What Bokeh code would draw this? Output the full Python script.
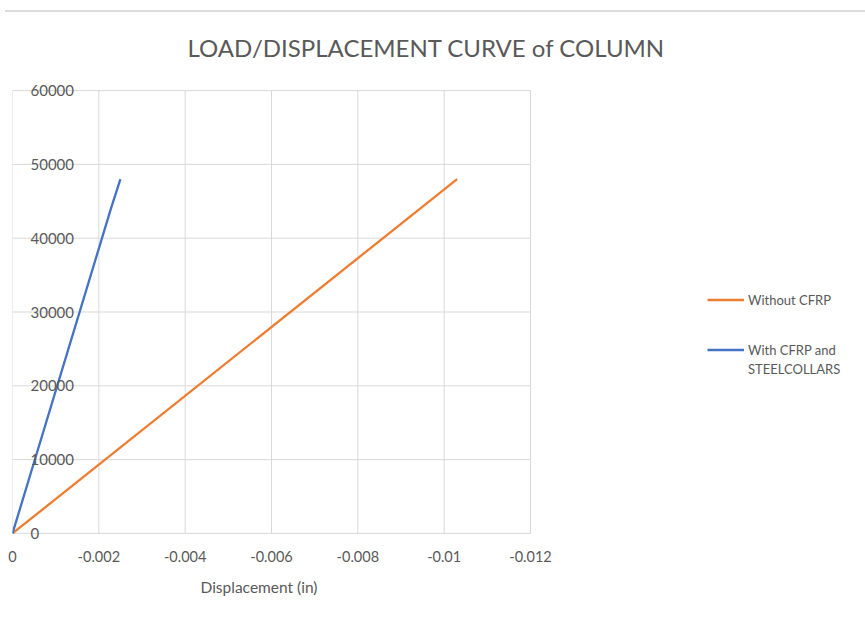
from bokeh.plotting import figure
from bokeh.models import Range1d, FixedTicker, Legend, LegendItem, Div, LabelSet, ColumnDataSource, Title
from bokeh.core.properties import value
from bokeh.layouts import column
from bokeh.embed import file_html
from bokeh.resources import INLINE

# Load/displacement readings for the two column specimens
disp_without_cfrp = [0.0, -0.0103]
load_without_cfrp = [0, 48000]

disp_with_cfrp = [0.0, -0.00228, -0.0025]
load_with_cfrp = [0, 44000, 48000]

x_ticks = [0.0, -0.002, -0.004, -0.006, -0.008, -0.01, -0.012]
x_tick_labels = ["0", "-0.002", "-0.004", "-0.006", "-0.008", "-0.01", "-0.012"]
y_ticks = [0, 10000, 20000, 30000, 40000, 50000, 60000]
y_tick_labels = ["0", "10000", "20000", "30000", "40000", "50000", "60000"]

ORANGE = "#ED7D31"
BLUE = "#4472C4"
GRID = "#d9d9d9"
TEXT = "#595959"
FONT = "Lato"

# The data area covers 0 .. -0.012; the frame keeps going to the right so the
# legend can sit beside the curves (518 px of data area out of an 853 px frame).
X_END = x_ticks[-1] * 853 / 518

p = figure(
    width=865, height=611,
    x_range=Range1d(0.0, X_END), y_range=Range1d(-1500, 61500),
    output_backend="svg", toolbar_location=None,
    min_border_left=12, min_border_right=0, min_border_top=67, min_border_bottom=79,
    outline_line_color=None,
)

p.title.text = "LOAD/DISPLACEMENT CURVE of COLUMN"
p.title.align = "left"
p.title.offset = 175
p.title.standoff = 36
p.title.text_font = FONT
p.title.text_font_style = "normal"
p.title.text_font_size = "24px"
p.title.text_color = TEXT

# x axis
p.xaxis.ticker = FixedTicker(ticks=x_ticks)
p.xaxis.major_label_overrides = dict(zip(x_ticks, x_tick_labels))
p.xaxis.axis_line_color = None
p.xaxis.major_tick_line_color = None
p.xaxis.minor_tick_line_color = None
p.xaxis.major_tick_out = 0
p.xaxis.major_label_standoff = 6
p.xaxis.major_label_text_font = FONT
p.xaxis.major_label_text_font_size = "14.5px"
p.xaxis.major_label_text_color = TEXT

# x axis title, centred under the data area
p.add_layout(Title(text="Displacement (in)", align="left", offset=188, standoff=22,
                   text_font=FONT, text_font_style="normal", text_font_size="15.5px",
                   text_color=TEXT), "below")

# y axis: grid only, its tick labels are drawn just inside the plotting area
p.yaxis.visible = False
p.xgrid.grid_line_color = None
p.ygrid.grid_line_color = None

n_x = len(x_ticks)
n_y = len(y_ticks)
p.segment(x0=x_ticks, y0=[y_ticks[0]] * n_x, x1=x_ticks, y1=[y_ticks[-1]] * n_x,
          line_color=GRID, line_width=1)
p.segment(x0=[x_ticks[0]] * n_y, y0=y_ticks, x1=[x_ticks[-1]] * n_y, y1=y_ticks,
          line_color=GRID, line_width=1)

y_label_src = ColumnDataSource(dict(x=[0.0] * n_y, y=y_ticks, text=y_tick_labels))
p.add_layout(LabelSet(
    x="x", y="y", text="text", source=y_label_src,
    x_offset=18, text_align="left", text_baseline="middle",
    text_font=value(FONT), text_font_size=value("15px"), text_color=TEXT,
))

r_without = p.line(disp_without_cfrp, load_without_cfrp, line_color=ORANGE, line_width=2.3)
r_with = p.line(disp_with_cfrp, load_with_cfrp, line_color=BLUE, line_width=2.3)

legend_style = dict(
    glyph_width=37, glyph_height=19, label_standoff=4, padding=0, margin=0,
    label_text_font=FONT, label_text_font_size="13px", label_text_color=TEXT,
    border_line_color=None, background_fill_alpha=0,
)
legend = Legend(
    items=[
        LegendItem(label="Without CFRP", renderers=[r_without]),
        LegendItem(label="With CFRP and", renderers=[r_with]),
    ],
    location=(695, 185), spacing=31, **legend_style,
)
# second line of the blue series' label
legend_cont = Legend(
    items=[LegendItem(label="STEELCOLLARS", renderers=[])],
    location=(695, 166), spacing=0, **legend_style,
)
p.add_layout(legend, "center")
p.add_layout(legend_cont, "center")

top_rule = Div(text="", width=860, height=2, margin=(10, 0, 0, 5),
               styles={"background-color": "#dcdcdc"})

layout = column(top_rule, p, spacing=0)
open("out.html", "w").write(file_html(layout, INLINE))
